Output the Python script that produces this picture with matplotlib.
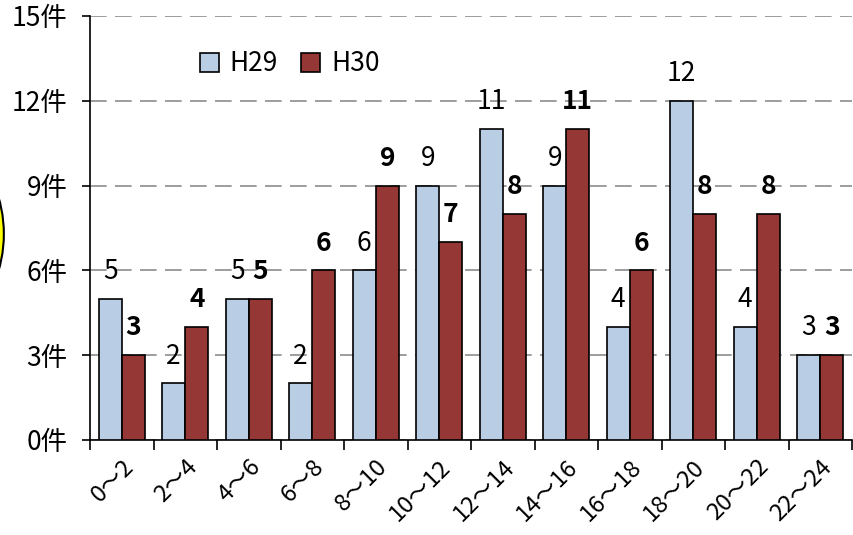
import matplotlib
matplotlib.use('Agg')
import matplotlib.pyplot as plt
from matplotlib.patches import Ellipse
import numpy as np

categories = ['0～2', '2～4', '4～6', '6～8', '8～10', '10～12', '12～14',
              '14～16', '16～18', '18～20', '20～22', '22～24']
h29 = [5, 2, 5, 2, 6, 9, 11, 9, 4, 12, 4, 3]
h30 = [3, 4, 5, 6, 9, 7, 8, 11, 6, 8, 8, 3]
yticks = [0, 3, 6, 9, 12, 15]

plt.rcParams['font.family'] = ['Noto Sans CJK JP', 'DejaVu Sans']
fs = 19

fig = plt.figure(figsize=(8.54, 5.35), dpi=100)
ax = fig.add_axes([0.1054, 0.1776, 0.8923, 0.7925])

# yellow circle partly off the left edge
fig.patches.append(Ellipse((-0.1475, 0.5626), 0.304, 0.486, transform=fig.transFigure,
                           facecolor='#FFFF00', edgecolor='black', lw=1.5, zorder=0))

x = np.arange(len(categories))
w = 0.363
ax.bar(x - w / 2, h29, w, color='#B9CDE5', edgecolor='black', lw=1.2, label='H29', zorder=3)
ax.bar(x + w / 2, h30, w, color='#953735', edgecolor='black', lw=1.2, label='H30', zorder=3)

for xi, v in zip(x, h29):
    ax.annotate(str(v), (xi - w / 2, v), xytext=(0, 10), textcoords='offset points',
                ha='center', va='bottom', fontsize=fs)
for xi, v in zip(x, h30):
    ax.annotate(str(v), (xi + w / 2, v), xytext=(0, 10), textcoords='offset points',
                ha='center', va='bottom', fontsize=fs, fontweight='bold')

ax.set_xlim(-0.5, len(categories) - 0.5)
ax.set_ylim(0, 15)
ax.set_yticks(yticks)
ax.set_yticklabels([f'{t}件' for t in yticks])
ax.yaxis.grid(True, color='#8c8c8c', linestyle=(0, (10, 5)), lw=1.2, zorder=0)
ax.set_axisbelow(True)

ax.set_xticks(np.arange(-0.5, len(categories)), minor=False)
ax.set_xticklabels([])
ax.set_xticks(x, minor=True)
ax.set_xticklabels(categories, minor=True, rotation=45, ha='right', va='top',
                   rotation_mode='anchor', fontsize=17)
ax.tick_params(axis='x', which='minor', length=0, pad=11)
ax.tick_params(axis='x', which='major', length=7, width=1.2, direction='out')
ax.tick_params(axis='y', length=6, width=1.2, direction='out', pad=10, labelsize=fs)

for s in ['top', 'right']:
    ax.spines[s].set_visible(False)
for s in ['left', 'bottom']:
    ax.spines[s].set_linewidth(1.2)

ax.legend(loc='upper left', bbox_to_anchor=(0.113, 0.975), ncol=2, frameon=False, fontsize=fs,
          handlelength=0.72, handleheight=0.72, handletextpad=0.4, columnspacing=0.9)

fig.savefig('out.png', dpi=100)
